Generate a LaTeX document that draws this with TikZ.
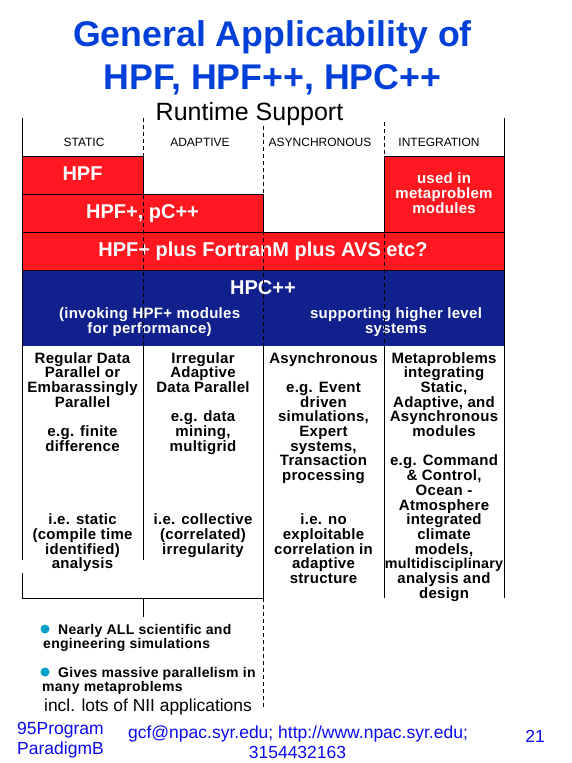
\documentclass[tikz,border=0pt]{standalone}
\usepackage{fontspec}
\setmainfont{Liberation Sans}
\newfontfamily\spacedf[LetterSpace=2]{Liberation Sans}
\definecolor{titleblue}{RGB}{0,64,216}
\definecolor{redfill}{RGB}{255,24,32}
\definecolor{navyfill}{RGB}{16,32,140}
\definecolor{footblue}{RGB}{10,10,240}
\definecolor{bulletcol}{RGB}{0,160,200}
\begin{document}
\begin{tikzpicture}[x=1pt,y=-1pt,
  titletxt/.style={anchor=base,inner sep=0,text=titleblue,font=\bfseries\fontsize{35.7}{40}\selectfont},
  hdr/.style={anchor=base,inner sep=0,font=\fontsize{12}{14}\selectfont},
  bigw/.style={anchor=base,inner sep=0,text=white,font=\bfseries\fontsize{20}{24}\selectfont},
  smallw/.style={anchor=north,align=center,inner sep=0,text=white,font=\spacedf\bfseries\fontsize{15}{15}\selectfont},
  coltxt/.style={anchor=north,align=center,inner sep=0,font=\spacedf\bfseries\fontsize{15}{14.7}\selectfont},
  bultxt/.style={anchor=base west,inner sep=0,font=\spacedf\bfseries\fontsize{14}{16}\selectfont},
  foot/.style={anchor=base,inner sep=0,text=footblue,font=\fontsize{17.5}{20}\selectfont},
  redbox/.style={draw=black,fill=redfill,line width=0.8pt},
  divdash/.style={dash pattern=on 4pt off 3pt,line width=0.8pt},
  rulel/.style={line width=0.8pt},
  dot/.style={circle,fill=bulletcol,inner sep=0,minimum size=9pt}]
\path[use as bounding box,fill=white] (0,0) rectangle (572,763);

% title
\node[titletxt] (t1) at (272.5,46) {General Applicability of};
\node[titletxt] (t2) at (272.5,89) {HPF, HPF++, HPC++};
\node[anchor=base,inner sep=0,font=\fontsize{25}{28}\selectfont] (rs) at (249.5,120) {Runtime Support};

% header labels
\node[hdr] (hs) at (84,146) {STATIC};
\node[hdr] (ha) at (200,146) {ADAPTIVE};
\node[hdr] (hy) at (320,146) {ASYNCHRONOUS};
\node[hdr] (hi) at (439,146) {INTEGRATION};

% coloured bars
\fill[navyfill] (22,270) rectangle (504,346);
\draw[redbox] (22,232) rectangle (504,270);
\draw[redbox] (22,194) rectangle (263,232);
\draw[redbox] (22,156) rectangle (143,194);
\draw[redbox] (384,156) rectangle (504,232);

\node[bigw] (hpf) at (82.5,180) {HPF};
\node[bigw] (hpfp) at (142.5,218) {HPF+, pC++};
\node[bigw] (plus) at (263,256) {HPF+ plus FortranM plus AVS etc?};
\node[bigw] (hpc) at (263,294) {HPC++};
\node[smallw] (used) at (444,172.3) {used in\\metaproblem\\modules};
\node[smallw] (invk) at (149.6,307) {(invoking HPF+ modules\\for performance)};
\node[smallw] (supp) at (396,307) {supporting higher level\\systems};

% outer rules
\draw[rulel] (22,118) -- (22,560);
\draw[rulel] (22,573) -- (22,598) -- (263,598);
\draw[rulel] (504,118) -- (504,598);
% dashed dividers over header and bars
\draw[divdash] (143,118) -- (143,346);
\draw[divdash] (263,126) -- (263,346);
\draw[divdash] (384,122) -- (384,346);
% solid dividers in body
\draw[rulel] (143,346) -- (143,560);
\draw[rulel] (263,346) -- (263,598);
\draw[rulel] (384,346) -- (384,598);
\draw[rulel] (143,598) -- (143,617);
\draw[divdash] (263,598) -- (263,708);

% column texts
\node[coltxt] (c1) at (82.5,352) {Regular Data\\Parallel or\\Embarassingly\\Parallel\\[14.7pt]e.g. finite\\difference\\[58.8pt]i.e. static\\(compile time\\identified)\\analysis};
\node[coltxt] (c2) at (203,352) {Irregular\\Adaptive\\Data Parallel\\[14.7pt]e.g. data\\mining,\\multigrid\\[58.8pt]i.e. collective\\(correlated)\\irregularity};
\node[coltxt] (c3) at (323.5,352) {Asynchronous\\[14.7pt]e.g. Event\\driven\\simulations,\\Expert\\systems,\\Transaction\\processing\\[29.4pt]i.e. no\\exploitable\\correlation in\\adaptive\\structure};
\node[coltxt] (c4) at (444,352) {Metaproblems\\integrating\\Static,\\Adaptive, and\\Asynchronous\\modules\\[14.7pt]e.g. Command\\\& Control,\\Ocean -\\Atmosphere\\integrated\\climate\\models,\\{\fontsize{14.3}{14.7}\selectfont\bfseries multidisciplinary}\\analysis and\\design};

% bullets
\node[dot] (d1) at (45,629) {};
\node[dot] (d2) at (45,672) {};
\node[bultxt] (b1) at (58,634) {Nearly ALL scientific and};
\node[bultxt] (b1b) at (43,648.5) {engineering simulations};
\node[bultxt] (b2) at (58,677) {Gives massive parallelism in};
\node[bultxt] (b2b) at (42,691) {many metaproblems};
\node[anchor=base west,inner sep=0,font=\fontsize{17.4}{20}\selectfont] (incl) at (44,711) {incl. lots of NII applications};

% footer
\node[foot,anchor=base west] (f1) at (17,734) {95Program};
\node[foot,anchor=base west] (f2) at (17,754) {ParadigmB};
\node[foot] (f3) at (298,738) {gcf@npac.syr.edu; http://www.npac.syr.edu;};
\node[foot] (f4) at (297.5,758) {3154432163};
\node[foot] (f5) at (535,742) {21};
\end{tikzpicture}
\end{document}
